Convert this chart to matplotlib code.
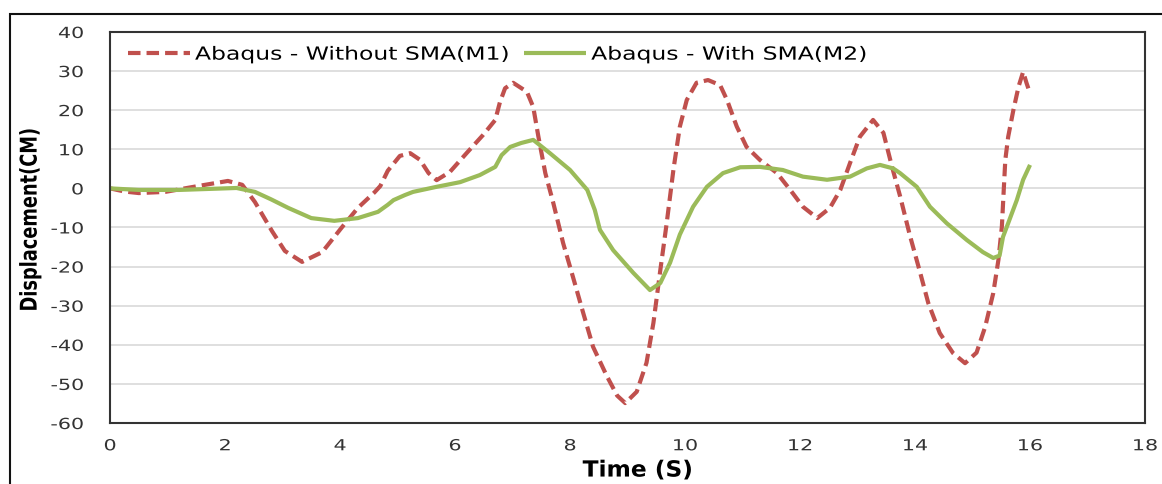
import matplotlib.pyplot as plt
from matplotlib.patches import Rectangle
from matplotlib.patheffects import AbstractPathEffect
from matplotlib.transforms import Affine2D

plt.rcParams['axes.unicode_minus'] = False

# time (s) and displacement (cm), model without SMA
t_m1 = [0, 0.25, 0.5, 0.96, 1.3, 1.65, 2.05, 2.3, 2.52, 2.82,
        3.04, 3.34, 3.69, 4.03, 4.31, 4.6, 4.7, 4.83, 5.04, 5.22,
        5.39, 5.54, 5.68, 5.91, 6.2, 6.49, 6.7, 6.78, 6.87, 7.01,
        7.25, 7.36, 7.45, 7.57, 7.71, 7.88, 8.05, 8.23, 8.4, 8.64,
        8.82, 8.96, 9.16, 9.33, 9.45, 9.57, 9.68, 9.8, 9.91, 10.03,
        10.2, 10.4, 10.61, 10.73, 10.9, 11.07, 11.3, 11.6, 11.83, 12.05,
        12.3, 12.52, 12.7, 12.87, 13.04, 13.27, 13.45, 13.6, 13.74, 13.91,
        14.09, 14.23, 14.43, 14.66, 14.87, 15.07, 15.22, 15.36, 15.45, 15.51,
        15.54, 15.57, 15.62, 15.71, 15.8, 15.88, 15.94, 16.0]
d_m1 = [0, -0.8, -1.2, -0.9, 0, 0.9, 1.9, 0.9, -3.5, -11,
        -16, -18.8, -16.3, -10, -5, -1, 0.6, 4.5, 8.3, 9,
        7.3, 3.9, 2.1, 4.2, 9, 13.7, 17.5, 22, 25.6, 27,
        24.7, 20.8, 13.2, 3.9, -3.8, -14, -22.6, -31.9, -40.5, -48,
        -53, -54.9, -52, -44.6, -34.4, -20.9, -9, 5, 15.8, 22.6,
        27, 27.7, 26.4, 22.6, 15.8, 10.6, 7.3, 3.9, -0.4, -4.7,
        -7.6, -5, -0.4, 6.5, 13.2, 17.5, 14.2, 5.5, -2, -12,
        -21.6, -29.3, -37, -42.1, -44.7, -42, -35.4, -26.8, -18.3, -9.8,
        -1.2, 7.3, 13.2, 20, 26, 29.8, 26.9, 24.3]

# model with SMA
t_m2 = [0, 0.5, 1.2, 1.8, 2.2, 2.52, 2.8, 3.1, 3.5, 3.9,
        4.31, 4.66, 4.83, 4.93, 5.13, 5.27, 5.68, 6.09, 6.43, 6.7,
        6.81, 6.96, 7.15, 7.36, 7.65, 8.0, 8.3, 8.43, 8.52, 8.75,
        9.1, 9.39, 9.57, 9.74, 9.91, 10.14, 10.38, 10.66, 10.96, 11.3,
        11.7, 12.05, 12.47, 12.87, 13.16, 13.39, 13.62, 13.74, 14.03, 14.26,
        14.55, 14.9, 15.18, 15.36, 15.47, 15.53, 15.62, 15.77, 15.88, 16.0]
d_m2 = [0, -0.4, -0.4, -0.1, 0.1, -0.9, -2.8, -5, -7.6, -8.3,
        -7.6, -6, -4.2, -3, -1.7, -0.9, 0.4, 1.6, 3.4, 5.5,
        8.5, 10.6, 11.6, 12.4, 9, 4.7, -0.4, -5.5, -10.6, -15.8,
        -21.6, -26, -24.2, -19, -11.8, -4.7, 0.4, 3.9, 5.4, 5.5,
        4.7, 3, 2.2, 3, 5.1, 6, 5.1, 3.9, 0.4, -4.7,
        -8.9, -13.2, -16.3, -17.8, -17.2, -12.4, -8.9, -3, 2.2, 6]


class Stretch(AbstractPathEffect):
    """Widen glyphs of a text around a fixed anchor (fraction of its extent)."""

    def __init__(self, sx=1.0, sy=1.0, fx=0.0, fy=0.0):
        super().__init__()
        self.sx, self.sy, self.fx, self.fy = sx, sy, fx, fy

    def draw_path(self, renderer, gc, tpath, affine, rgbFace=None):
        ext = tpath.get_extents()
        px = ext.x0 + self.fx * ext.width
        py = ext.y0 + self.fy * ext.height
        tr = Affine2D().translate(-px, -py).scale(self.sx, self.sy).translate(px, py)
        renderer.draw_path(gc, tpath, tr + affine, rgbFace)


fig = plt.figure(figsize=(11.62, 4.84), dpi=100)
ax = fig.add_axes([0.0947, 0.126, 0.8907, 0.808])

ax.plot(t_m1, d_m1, color='#C0504D', lw=3, ls=(0, (3.0, 1.45)),
        dash_capstyle='butt', dash_joinstyle='round',
        label='Abaqus - Without SMA(M1)')
ax.plot(t_m2, d_m2, color='#9BBB59', lw=3, solid_joinstyle='round',
        solid_capstyle='butt', label='Abaqus - With SMA(M2)')

ax.set_xlim(0, 18)
ax.set_ylim(-60, 40)
ax.set_xticks(range(0, 19, 2))
ax.set_yticks(range(-60, 41, 10))
ax.grid(axis='y', color='#D9D9D9', lw=1.2)
ax.set_axisbelow(True)
ax.tick_params(length=0, labelsize=11, colors='#333333')
ax.tick_params(axis='x', pad=11)
ax.tick_params(axis='y', pad=19)
for lbl in ax.get_yticklabels():
    lbl.set_path_effects([Stretch(1.35, 1.0, fx=1.0)])
for lbl in ax.get_xticklabels():
    lbl.set_path_effects([Stretch(1.35, 1.0, fx=0.5)])
for s in ax.spines.values():
    s.set_color('#333333')
    s.set_linewidth(1.5)

ax.set_xlabel('Time (S)', fontsize=16, fontweight='bold',
              path_effects=[Stretch(1.05, 1.0, fx=0.5)])
ax.xaxis.set_label_coords(0.51, -0.096)
ax.set_ylabel('Displacement(CM)', fontsize=12.8, fontweight='bold',
              path_effects=[Stretch(1.0, 1.3, fy=0.0)])
ax.yaxis.set_label_coords(-0.066, 0.52)

leg = ax.legend(loc='upper left', ncol=2, frameon=False, fontsize=13,
                handlelength=3.43, handletextpad=0.28, columnspacing=4.87,
                borderpad=0, borderaxespad=0, bbox_to_anchor=(0.0174, 0.965))
for txt in leg.get_texts():
    txt.set_path_effects([Stretch(1.3, 1.0, fx=0.0)])

# outer frame around the chart
fig.patches.append(Rectangle((10 / 1162, -0.1), 1.2, (484 - 14) / 484 + 0.1,
                             transform=fig.transFigure, fill=False,
                             edgecolor='#111111', lw=1.5))

fig.savefig('out.png', dpi=100)
